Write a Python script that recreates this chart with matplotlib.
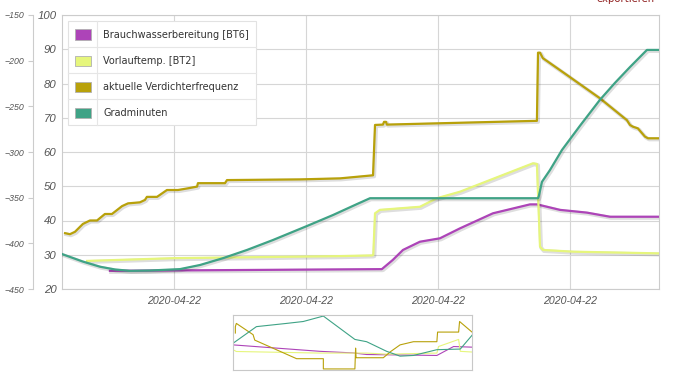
import matplotlib
matplotlib.use("Agg")
import matplotlib.pyplot as plt
import matplotlib.dates as mdates
import matplotlib.patheffects as pe
from matplotlib.patches import Rectangle
from matplotlib.lines import Line2D
import pandas as pd

W, H = 675, 380
base = pd.Timestamp("2020-04-22 09:00")

series_names = ["Brauchwasserbereitung [BT6]", "Vorlauftemp. [BT2]",
                "aktuelle Verdichterfrequenz", "Gradminuten"]
series_colors = ["#ad44b8", "#e6f67c", "#b8a10a", "#3fa386"]

# minutes after 09:00 on 2020-04-22, values on the 20..100 scale
bt6_min = [30.9, 154.5, 159.5, 164.1, 171.8, 180.9, 190.0, 205.0, 221.8, 225.0, 226.4, 235.5, 247.7, 258.2, 280.5]
bt6_val = [25.3, 25.8, 28.5, 31.4, 33.8, 34.8, 37.7, 42.1, 44.7, 44.7, 44.5, 43.1, 42.3, 41.1, 41.1]

bt2_min = [20.5, 60.0, 135.5, 150.0, 150.6, 151.4, 153.6, 171.8, 179.5, 190.0, 223.2, 225.0, 226.4, 227.7, 241.4, 280.5]
bt2_val = [28.2, 29.0, 29.6, 29.8, 29.9, 42.1, 43.1, 44.0, 46.5, 48.4, 56.7, 56.5, 32.4, 31.4, 30.9, 30.4]

freq_min = [10.5, 12.7, 15.0, 18.6, 21.8, 25.0, 28.6, 31.8, 36.4, 39.1, 44.5, 46.8, 47.7, 52.3,
            56.8, 61.8, 66.4, 70.5, 70.9, 83.2, 84.1, 117.3, 135.5, 150.5, 151.4, 155.0, 155.5,
            156.4, 156.8, 225.0, 225.5, 226.4, 227.7, 238.6, 253.6, 265.9, 267.3, 268.6, 270.9,
            274.1, 275.5, 280.5]
freq_val = [36.3, 36.0, 36.7, 39.0, 40.0, 40.0, 41.9, 41.9, 44.2, 45.0, 45.3, 46.0, 46.9, 46.9,
            48.9, 48.9, 49.4, 49.9, 50.9, 50.9, 51.8, 52.0, 52.3, 53.2, 67.9, 68.0, 68.8,
            68.8, 68.0, 69.1, 89.0, 89.0, 87.4, 82.5, 75.7, 69.3, 67.9, 67.4, 66.9,
            64.5, 64.0, 64.0]

gm_min = [9.1, 18.6, 26.4, 33.2, 40.0, 49.1, 62.7, 71.8, 82.3, 93.2, 105.0, 120.5, 132.3, 143.2,
          149.1, 225.5, 225.9, 227.3, 230.9, 236.4, 244.5, 253.6, 260.5, 267.3, 275.0, 280.5]
gm_val = [30.2, 28.0, 26.5, 25.7, 25.3, 25.4, 25.8, 27.0, 29.0, 31.4, 34.3, 38.4, 41.6, 44.8,
          46.5, 46.5, 47.2, 51.3, 54.7, 60.6, 67.6, 75.2, 80.2, 84.8, 89.8, 89.8]

x_start_min, x_end_min = 9.1, 280.5
y_main = [20, 100]
y_main_ticks = [20, 30, 40, 50, 60, 70, 80, 90, 100]
y_outer = [-450, -150]
y_outer_ticks = [-450, -400, -350, -300, -250, -200, -150]

# navigator (overview) series, normalised 0..1
nav_gm_x = [0, 0.098, 0.224, 0.294, 0.378, 0.510, 0.559, 0.643, 0.699, 0.755, 0.853, 0.951, 1.0]
nav_gm_y = [0.485, 0.80, 0.861, 0.897, 1.0, 0.558, 0.515, 0.333, 0.242, 0.255, 0.364, 0.376, 0.636]
nav_fq_x = [0.0098, 0.0098, 0.014, 0.084, 0.091, 0.266, 0.378, 0.378, 0.510, 0.513, 0.515, 0.517,
            0.629, 0.66, 0.699, 0.755, 0.853, 0.856, 0.944, 0.948, 1.0]
nav_fq_y = [0.679, 0.80, 0.861, 0.648, 0.545, 0.194, 0.194, 0.0, 0.0, 0.394, 0.212, 0.212,
            0.212, 0.33, 0.455, 0.515, 0.515, 0.697, 0.697, 0.897, 0.697]
nav_bt6_x = [0, 0.364, 0.503, 0.559, 0.853, 0.923, 1.0]
nav_bt6_y = [0.455, 0.333, 0.303, 0.273, 0.255, 0.424, 0.412]
nav_bt2_x = [0.0, 0.014, 0.364, 0.559, 0.643, 0.853, 0.86, 0.944, 0.951, 1.0]
nav_bt2_y = [0.364, 0.33, 0.30, 0.30, 0.28, 0.30, 0.424, 0.558, 0.333, 0.32]


def fx(px):
    return px / W


def fy(py):
    return 1 - py / H


def to_time(mins):
    return base + pd.to_timedelta(mins, unit="min")


plt.rcParams['font.family'] = ['DejaVu Sans']
fig = plt.figure(figsize=(W / 100, H / 100), dpi=100)
fig.patch.set_facecolor("white")

L, R, T, B = 62, 659, 15, 289
ax = fig.add_axes([fx(L), fy(B), fx(R) - fx(L), fy(T) - fy(B)])
ax.set_facecolor("white")
ax.set_xlim(to_time(x_start_min), to_time(x_end_min))
ax.set_ylim(*y_main)
ax.set_yticks(y_main_ticks)
ax.xaxis.set_major_locator(mdates.HourLocator())
ax.xaxis.set_major_formatter(mdates.DateFormatter("%Y-%m-%d"))
ax.grid(True, color="#d6d6d6", linewidth=0.8)
ax.set_axisbelow(True)
for s in ax.spines.values():
    s.set_color("#cccccc")
    s.set_linewidth(0.8)
ax.tick_params(axis="both", length=0, colors="#555555")
ax.tick_params(axis="y", pad=4)
ax.tick_params(axis="x", pad=5)
for lab in ax.get_yticklabels():
    lab.set_fontfamily("Liberation Sans")
    lab.set_fontstyle("italic")
    lab.set_fontsize(8.2)
for lab in ax.get_xticklabels():
    lab.set_fontfamily("Liberation Sans")
    lab.set_fontstyle("italic")
    lab.set_fontsize(7.6)

shadow = [pe.SimpleLineShadow(offset=(0.8, -0.8), shadow_color="black", alpha=0.13, linewidth=2.8),
          pe.Normal()]
data = [(bt6_min, bt6_val), (bt2_min, bt2_val), (freq_min, freq_val), (gm_min, gm_val)]
for (mins, vals), col in zip(data, series_colors):
    ax.plot(to_time(mins), vals, color=col, linewidth=1.6, solid_joinstyle="round",
            path_effects=shadow, zorder=3)

# outer (left) axis
ax2 = fig.add_axes(ax.get_position())
ax2.patch.set_visible(False)
ax2.set_ylim(*y_outer)
ax2.set_yticks(y_outer_ticks)
ax2.set_xticks([])
for side in ["top", "right", "bottom"]:
    ax2.spines[side].set_visible(False)
ax2.spines["left"].set_position(("axes", (33 - L) / (R - L)))
ax2.spines["left"].set_color("#cccccc")
ax2.spines["left"].set_linewidth(0.8)
ax2.tick_params(axis="y", direction="out", length=3.5, color="#cccccc", colors="#555555", pad=3)
for lab in ax2.get_yticklabels():
    lab.set_fontfamily("Liberation Sans")
    lab.set_fontstyle("italic")
    lab.set_fontsize(6.3)
    lab.set_color("#555555")

# legend box
lx0, lx1, ly0, ly1 = 68, 256, 21, 125
fig.patches.append(Rectangle((fx(lx0), fy(ly1)), fx(lx1) - fx(lx0), fy(ly0) - fy(ly1),
                             transform=fig.transFigure, facecolor="white", edgecolor="#e2e2e2",
                             linewidth=0.8, zorder=5))
row_h = (ly1 - ly0) / len(series_names)
fig.add_artist(Line2D([fx(97), fx(97)], [fy(ly0), fy(ly1)], color="#e6e6e6", linewidth=0.8, zorder=6))
for i, (name, col) in enumerate(zip(series_names, series_colors)):
    top = ly0 + i * row_h
    cy = top + row_h / 2 + 0.5
    if i > 0:
        fig.add_artist(Line2D([fx(lx0), fx(lx1)], [fy(top), fy(top)], color="#e6e6e6",
                              linewidth=0.8, zorder=6))
    fig.patches.append(Rectangle((fx(75), fy(cy + 5)), fx(91) - fx(75), fy(cy - 5) - fy(cy + 5),
                                 transform=fig.transFigure, facecolor=col, edgecolor="#b0b0b0",
                                 linewidth=0.6, zorder=7))
    fig.text(fx(103), fy(cy), name, fontsize=7.05, color="#333333", va="center", ha="left",
             family="DejaVu Sans", zorder=8)

# navigator
nx0, nx1, ny0, ny1 = 233, 472, 315, 370
nav = fig.add_axes([fx(nx0), fy(ny1), fx(nx1) - fx(nx0), fy(ny0) - fy(ny1)])
nav.set_xlim(0, 1)
nav.set_ylim(-0.02, 1.02)
nav.set_xticks([])
nav.set_yticks([])
for s in nav.spines.values():
    s.set_color("#c8c8c8")
    s.set_linewidth(0.8)
nav_data = [(nav_bt6_x, nav_bt6_y), (nav_bt2_x, nav_bt2_y), (nav_fq_x, nav_fq_y), (nav_gm_x, nav_gm_y)]
for (xs, ys), col in zip(nav_data, series_colors):
    nav.plot(xs, ys, color=col, linewidth=0.8)

# clipped "exportieren" link at top right
fig.text(fx(655), fy(2.5), "exportieren", fontsize=7.3, color="#8e1c1c", ha="right", va="baseline")

fig.savefig("out.png", dpi=100)
